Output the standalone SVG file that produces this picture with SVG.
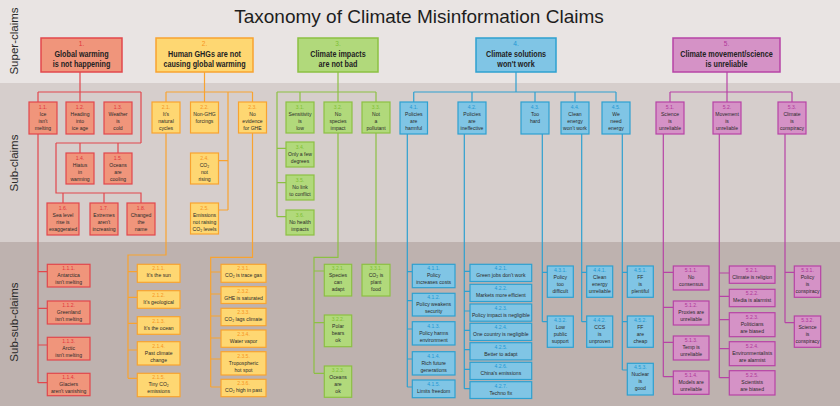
<svg xmlns="http://www.w3.org/2000/svg" width="840" height="406" viewBox="0 0 840 406">
<style>
text{font-family:"Liberation Sans",Arial,Helvetica,sans-serif}
.ttl{font-size:19px;text-anchor:middle;fill:#1d1d1d}
.side{font-size:11.5px;text-anchor:middle;fill:#2b2b2b}
.t{font-size:6.2px;text-anchor:middle;fill:#2a2a2a}
.st{font-size:8.3px;font-weight:bold;text-anchor:middle;fill:#222}
.st .n{font-weight:normal;font-size:7.5px}
.r rect{fill:#f0957b;stroke:#e2474c;stroke-width:1.2}
.r .n{fill:#e2343c}
.o rect{fill:#fed772;stroke:#f8a330;stroke-width:1.2}
.o .n{fill:#f7941d}
.g rect{fill:#b1d97b;stroke:#8cc043;stroke-width:1.2}
.g .n{fill:#7fbf33}
.b rect{fill:#80c5e5;stroke:#2ea0d0;stroke-width:1.2}
.b .n{fill:#1e98d4}
.m rect{fill:#d592c6;stroke:#b743a6;stroke-width:1.2}
.m .n{fill:#b0359a}
.sup rect{stroke-width:1.5}
#connectors path{fill:none;stroke-width:1.2}
.cr{stroke:#e2474c}.co{stroke:#f8a330}.cg{stroke:#8cc043}.cb{stroke:#2ea0d0}.cm{stroke:#b743a6}
</style>
<rect width="840" height="83" fill="#e9e4e3"/>
<rect y="83" width="840" height="159" fill="#d6cecc"/>
<rect y="242" width="840" height="164" fill="#beb2af"/>
<text class="ttl" x="419" y="23">Taxonomy of Climate Misinformation Claims</text>
<text class="side" transform="translate(17.5 41) rotate(-90)">Super-claims</text>
<text class="side" transform="translate(17.5 163) rotate(-90)">Sub-claims</text>
<text class="side" transform="translate(17.5 322) rotate(-90)">Sub-sub-claims</text>

<g id="connectors">
<path class="cr" d="M80 72V102M38 92H141M38 92V383M141 92V143M56 143H141M56 143V193H141V203M80 143V153M118 143V153M63 193V203M104 193V203M38 271.7H47M38 308.3H47M38 345H47M38 382.7H47"/>
<path class="co" d="M204.5 72V102M166 92H252.5M166 92V255H128V378.3M128 271.7H137M128 297.3H137M128 323.3H137M128 350H137M128 378.3H137M228 92V210M218 160.7H228M218 210H228M252.5 92V257.3H210.7V387M210.7 272H221M210.7 294H221M210.7 316H221M210.7 338H221M210.7 359H221M210.7 387H221"/>
<path class="cg" d="M338 72V102M277 92H376M277 92V216.7M277 148.3H286M277 182.7H286M277 216.7H286M300 92V102M338 133V257.3H314V373.3M314 271H324M314 322.7H324M314 373.3H324M376 92V264.3"/>
<path class="cb" d="M516 72V92M413.75 92H616M413.75 92V102M472 92V102M535 92V102M575 92V102M616 92V102M407.3 134V387M407.3 271.7H412.3M407.3 300.7H412.3M407.3 329H412.3M407.3 359H412.3M407.3 387H412.3M464.3 134V388.7M464.3 271.3H470M464.3 291.3H470M464.3 311H470M464.3 330.3H470M464.3 349.7H470M464.3 369.3H470M464.3 388.7H470M542.3 134V321.7M542.3 272.3H547.3M542.3 321.7H547.3M581.7 134V321.7M581.7 272.3H586.7M581.7 321.7H586.7M622.3 134V370M622.3 272.3H627.3M622.3 321.7H627.3M622.3 370H627.3"/>
<path class="cm" d="M727 72V102M670 92H792M670 92V102M792 92V102M663.3 134V376.7M663.3 272.3H673.3M663.3 307.3H673.3M663.3 342.3H673.3M663.3 376.7H673.3M719.3 134V377.7M719.3 273H729.3M719.3 296.3H729.3M719.3 319.7H729.3M719.3 348.7H729.3M719.3 377.7H729.3M785 134V322.7M785 272.3H794.3M785 322.7H794.3"/>
</g>

<g id="super-1" class="r sup" transform="translate(41 38)"><rect width="81" height="34"/><text class="st" transform="translate(40.5 0) scale(.87 1)"><tspan class="n" x="0" y="8">1.</tspan><tspan x="0" y="19.3">Global warming</tspan><tspan x="0" y="29">is not happening</tspan></text></g>
<g id="super-2" class="o sup" transform="translate(156 38)"><rect width="97" height="34"/><text class="st" transform="translate(48.5 0) scale(.87 1)"><tspan class="n" x="0" y="8">2.</tspan><tspan x="0" y="19.3">Human GHGs are not</tspan><tspan x="0" y="29">causing global warming</tspan></text></g>
<g id="super-3" class="g sup" transform="translate(298 38)"><rect width="80" height="34"/><text class="st" transform="translate(40 0) scale(.87 1)"><tspan class="n" x="0" y="8">3.</tspan><tspan x="0" y="19.3">Climate impacts</tspan><tspan x="0" y="29">are not bad</tspan></text></g>
<g id="super-4" class="b sup" transform="translate(476 38)"><rect width="80" height="34"/><text class="st" transform="translate(40 0) scale(.87 1)"><tspan class="n" x="0" y="8">4.</tspan><tspan x="0" y="19.3">Climate solutions</tspan><tspan x="0" y="29">won't work</tspan></text></g>
<g id="super-5" class="m sup" transform="translate(673 38)"><rect width="107" height="34"/><text class="st" transform="translate(53.5 0) scale(.87 1)"><tspan class="n" x="0" y="8">5.</tspan><tspan x="0" y="19.3">Climate movement/science</tspan><tspan x="0" y="29">is unreliable</tspan></text></g>

<g id="claim-1-1" class="r" transform="translate(29 102)"><rect width="28" height="32"/><text class="t" transform="translate(14 0) scale(.82 1)"><tspan class="n" x="0" y="7.5">1.1.</tspan><tspan x="0" dy="6.8">Ice</tspan><tspan x="0" dy="6.8">isn't</tspan><tspan x="0" dy="6.8">melting</tspan></text></g>
<g id="claim-1-2" class="r" transform="translate(66 102)"><rect width="28" height="32"/><text class="t" transform="translate(14 0) scale(.82 1)"><tspan class="n" x="0" y="7.5">1.2.</tspan><tspan x="0" dy="6.8">Heading</tspan><tspan x="0" dy="6.8">into</tspan><tspan x="0" dy="6.8">ice age</tspan></text></g>
<g id="claim-1-3" class="r" transform="translate(104 102)"><rect width="28" height="32"/><text class="t" transform="translate(14 0) scale(.82 1)"><tspan class="n" x="0" y="7.5">1.3.</tspan><tspan x="0" dy="6.8">Weather</tspan><tspan x="0" dy="6.8">is</tspan><tspan x="0" dy="6.8">cold</tspan></text></g>
<g id="claim-1-4" class="r" transform="translate(66 153)"><rect width="28" height="31"/><text class="t" transform="translate(14 0) scale(.82 1)"><tspan class="n" x="0" y="7.5">1.4.</tspan><tspan x="0" dy="6.8">Hiatus</tspan><tspan x="0" dy="6.8">in</tspan><tspan x="0" dy="6.8">warming</tspan></text></g>
<g id="claim-1-5" class="r" transform="translate(104 153)"><rect width="28" height="31"/><text class="t" transform="translate(14 0) scale(.82 1)"><tspan class="n" x="0" y="7.5">1.5.</tspan><tspan x="0" dy="6.8">Oceans</tspan><tspan x="0" dy="6.8">are</tspan><tspan x="0" dy="6.8">cooling</tspan></text></g>
<g id="claim-1-6" class="r" transform="translate(47 203)"><rect width="32" height="32"/><text class="t" transform="translate(16 0) scale(.82 1)"><tspan class="n" x="0" y="7.5">1.6.</tspan><tspan x="0" dy="6.8">Sea level</tspan><tspan x="0" dy="6.8">rise is</tspan><tspan x="0" dy="6.8">exaggerated</tspan></text></g>
<g id="claim-1-7" class="r" transform="translate(90 203)"><rect width="28" height="32"/><text class="t" transform="translate(14 0) scale(.82 1)"><tspan class="n" x="0" y="7.5">1.7.</tspan><tspan x="0" dy="6.8">Extremes</tspan><tspan x="0" dy="6.8">aren't</tspan><tspan x="0" dy="6.8">increasing</tspan></text></g>
<g id="claim-1-8" class="r" transform="translate(127 203)"><rect width="28" height="32"/><text class="t" transform="translate(14 0) scale(.82 1)"><tspan class="n" x="0" y="7.5">1.8.</tspan><tspan x="0" dy="6.8">Changed</tspan><tspan x="0" dy="6.8">the</tspan><tspan x="0" dy="6.8">name</tspan></text></g>

<g id="claim-2-1" class="o" transform="translate(152 102)"><rect width="28" height="31"/><text class="t" transform="translate(14 0) scale(.82 1)"><tspan class="n" x="0" y="7.5">2.1.</tspan><tspan x="0" dy="6.8">It's</tspan><tspan x="0" dy="6.8">natural</tspan><tspan x="0" dy="6.8">cycles</tspan></text></g>
<g id="claim-2-2" class="o" transform="translate(190.5 102)"><rect width="28" height="31"/><text class="t" transform="translate(14 0) scale(.82 1)"><tspan class="n" x="0" y="7.5">2.2.</tspan><tspan x="0" dy="6.8">Non-GHG</tspan><tspan x="0" dy="6.8">forcings</tspan></text></g>
<g id="claim-2-3" class="o" transform="translate(238.5 102)"><rect width="28" height="31"/><text class="t" transform="translate(14 0) scale(.82 1)"><tspan class="n" x="0" y="7.5">2.3.</tspan><tspan x="0" dy="6.8">No</tspan><tspan x="0" dy="6.8">evidence</tspan><tspan x="0" dy="6.8">for GHE</tspan></text></g>
<g id="claim-2-4" class="o" transform="translate(190.5 153)"><rect width="28" height="31"/><text class="t" transform="translate(14 0) scale(.82 1)"><tspan class="n" x="0" y="7.5">2.4.</tspan><tspan x="0" dy="6.8">CO₂</tspan><tspan x="0" dy="6.8">not</tspan><tspan x="0" dy="6.8">rising</tspan></text></g>
<g id="claim-2-5" class="o" transform="translate(190.5 203)"><rect width="28" height="31"/><text class="t" transform="translate(14 0) scale(.82 1)"><tspan class="n" x="0" y="7.5">2.5.</tspan><tspan x="0" dy="6.8">Emissions</tspan><tspan x="0" dy="6.8">not raising</tspan><tspan x="0" dy="6.8">CO₂ levels</tspan></text></g>

<g id="claim-3-1" class="g" transform="translate(286 102)"><rect width="28" height="31"/><text class="t" transform="translate(14 0) scale(.82 1)"><tspan class="n" x="0" y="7.5">3.1.</tspan><tspan x="0" dy="6.8">Sensitivity</tspan><tspan x="0" dy="6.8">is</tspan><tspan x="0" dy="6.8">low</tspan></text></g>
<g id="claim-3-2" class="g" transform="translate(324 102)"><rect width="28" height="31"/><text class="t" transform="translate(14 0) scale(.82 1)"><tspan class="n" x="0" y="7.5">3.2.</tspan><tspan x="0" dy="6.8">No</tspan><tspan x="0" dy="6.8">species</tspan><tspan x="0" dy="6.8">impact</tspan></text></g>
<g id="claim-3-3" class="g" transform="translate(362 102)"><rect width="28" height="31"/><text class="t" transform="translate(14 0) scale(.82 1)"><tspan class="n" x="0" y="7.5">3.3.</tspan><tspan x="0" dy="6.8">Not</tspan><tspan x="0" dy="6.8">a</tspan><tspan x="0" dy="6.8">pollutant</tspan></text></g>
<g id="claim-3-4" class="g" transform="translate(286 142)"><rect width="28" height="25"/><text class="t" transform="translate(14 0) scale(.82 1)"><tspan class="n" x="0" y="7">3.4.</tspan><tspan x="0" dy="6.8">Only a few</tspan><tspan x="0" dy="6.8">degrees</tspan></text></g>
<g id="claim-3-5" class="g" transform="translate(286 175)"><rect width="28" height="25"/><text class="t" transform="translate(14 0) scale(.82 1)"><tspan class="n" x="0" y="7">3.5.</tspan><tspan x="0" dy="6.8">No link</tspan><tspan x="0" dy="6.8">to conflict</tspan></text></g>
<g id="claim-3-6" class="g" transform="translate(286 210)"><rect width="28" height="25"/><text class="t" transform="translate(14 0) scale(.82 1)"><tspan class="n" x="0" y="7">3.6.</tspan><tspan x="0" dy="6.8">No health</tspan><tspan x="0" dy="6.8">impacts</tspan></text></g>

<g id="claim-4-1" class="b" transform="translate(400 102)"><rect width="27.5" height="32"/><text class="t" transform="translate(13.75 0) scale(.82 1)"><tspan class="n" x="0" y="7.5">4.1.</tspan><tspan x="0" dy="6.8">Policies</tspan><tspan x="0" dy="6.8">are</tspan><tspan x="0" dy="6.8">harmful</tspan></text></g>
<g id="claim-4-2" class="b" transform="translate(458 102)"><rect width="28" height="32"/><text class="t" transform="translate(14 0) scale(.82 1)"><tspan class="n" x="0" y="7.5">4.2.</tspan><tspan x="0" dy="6.8">Policies</tspan><tspan x="0" dy="6.8">are</tspan><tspan x="0" dy="6.8">ineffective</tspan></text></g>
<g id="claim-4-3" class="b" transform="translate(521 102)"><rect width="28" height="32"/><text class="t" transform="translate(14 0) scale(.82 1)"><tspan class="n" x="0" y="7.5">4.3.</tspan><tspan x="0" dy="6.8">Too</tspan><tspan x="0" dy="6.8">hard</tspan></text></g>
<g id="claim-4-4" class="b" transform="translate(561 102)"><rect width="28" height="32"/><text class="t" transform="translate(14 0) scale(.82 1)"><tspan class="n" x="0" y="7.5">4.4.</tspan><tspan x="0" dy="6.8">Clean</tspan><tspan x="0" dy="6.8">energy</tspan><tspan x="0" dy="6.8">won't work</tspan></text></g>
<g id="claim-4-5" class="b" transform="translate(602 102)"><rect width="28" height="32"/><text class="t" transform="translate(14 0) scale(.82 1)"><tspan class="n" x="0" y="7.5">4.5.</tspan><tspan x="0" dy="6.8">We</tspan><tspan x="0" dy="6.8">need</tspan><tspan x="0" dy="6.8">energy</tspan></text></g>

<g id="claim-5-1" class="m" transform="translate(656 102)"><rect width="28" height="32"/><text class="t" transform="translate(14 0) scale(.82 1)"><tspan class="n" x="0" y="7.5">5.1.</tspan><tspan x="0" dy="6.8">Science</tspan><tspan x="0" dy="6.8">is</tspan><tspan x="0" dy="6.8">unreliable</tspan></text></g>
<g id="claim-5-2" class="m" transform="translate(713 102)"><rect width="28" height="32"/><text class="t" transform="translate(14 0) scale(.82 1)"><tspan class="n" x="0" y="7.5">5.2.</tspan><tspan x="0" dy="6.8">Movement</tspan><tspan x="0" dy="6.8">is</tspan><tspan x="0" dy="6.8">unreliable</tspan></text></g>
<g id="claim-5-3" class="m" transform="translate(778 102)"><rect width="28" height="32"/><text class="t" transform="translate(14 0) scale(.82 1)"><tspan class="n" x="0" y="7.5">5.3.</tspan><tspan x="0" dy="6.8">Climate</tspan><tspan x="0" dy="6.8">is</tspan><tspan x="0" dy="6.8">conspiracy</tspan></text></g>

<g id="claim-1-1-1" class="r" transform="translate(47.3 264.3)"><rect width="42.7" height="22.7"/><text class="t" transform="translate(21.35 0) scale(.82 1)"><tspan class="n" x="0" y="6">1.1.1.</tspan><tspan x="0" dy="7.2">Antarctica</tspan><tspan x="0" dy="6.8">isn't melting</tspan></text></g>
<g id="claim-1-1-2" class="r" transform="translate(47.3 301)"><rect width="42.7" height="23"/><text class="t" transform="translate(21.35 0) scale(.82 1)"><tspan class="n" x="0" y="6">1.1.2.</tspan><tspan x="0" dy="7.2">Greenland</tspan><tspan x="0" dy="6.8">isn't melting</tspan></text></g>
<g id="claim-1-1-3" class="r" transform="translate(47.3 337.3)"><rect width="42.7" height="22.7"/><text class="t" transform="translate(21.35 0) scale(.82 1)"><tspan class="n" x="0" y="6">1.1.3.</tspan><tspan x="0" dy="7.2">Arctic</tspan><tspan x="0" dy="6.8">isn't melting</tspan></text></g>
<g id="claim-1-1-4" class="r" transform="translate(47.3 373.3)"><rect width="42.7" height="22.4"/><text class="t" transform="translate(21.35 0) scale(.82 1)"><tspan class="n" x="0" y="6">1.1.4.</tspan><tspan x="0" dy="7.2">Glaciers</tspan><tspan x="0" dy="6.8">aren't vanishing</tspan></text></g>

<g id="claim-2-1-1" class="o" transform="translate(137.3 264.3)"><rect width="42.7" height="18"/><text class="t" transform="translate(21.35 0) scale(.82 1)"><tspan class="n" x="0" y="6">2.1.1.</tspan><tspan x="0" dy="7.2">It's the sun</tspan></text></g>
<g id="claim-2-1-2" class="o" transform="translate(137.3 290.7)"><rect width="42.7" height="17.6"/><text class="t" transform="translate(21.35 0) scale(.82 1)"><tspan class="n" x="0" y="6">2.1.2.</tspan><tspan x="0" dy="7.2">It's geological</tspan></text></g>
<g id="claim-2-1-3" class="o" transform="translate(137.3 316.7)"><rect width="42.7" height="17.6"/><text class="t" transform="translate(21.35 0) scale(.82 1)"><tspan class="n" x="0" y="6">2.1.3.</tspan><tspan x="0" dy="7.2">It's the ocean</tspan></text></g>
<g id="claim-2-1-4" class="o" transform="translate(137.3 341.7)"><rect width="42.7" height="23.3"/><text class="t" transform="translate(21.35 0) scale(.82 1)"><tspan class="n" x="0" y="6">2.1.4.</tspan><tspan x="0" dy="7.2">Past climate</tspan><tspan x="0" dy="6.8">change</tspan></text></g>
<g id="claim-2-1-5" class="o" transform="translate(137.3 373.3)"><rect width="42.7" height="23.4"/><text class="t" transform="translate(21.35 0) scale(.82 1)"><tspan class="n" x="0" y="6">2.1.5.</tspan><tspan x="0" dy="7.2">Tiny CO₂</tspan><tspan x="0" dy="6.8">emissions</tspan></text></g>

<g id="claim-2-3-1" class="o" transform="translate(221 264.3)"><rect width="45" height="18"/><text class="t" transform="translate(22.5 0) scale(.82 1)"><tspan class="n" x="0" y="6">2.3.1.</tspan><tspan x="0" dy="7.2">CO₂ is trace gas</tspan></text></g>
<g id="claim-2-3-2" class="o" transform="translate(221 286.7)"><rect width="45" height="16.8"/><text class="t" transform="translate(22.5 0) scale(.82 1)"><tspan class="n" x="0" y="6">2.3.2.</tspan><tspan x="0" dy="7.2">GHE is saturated</tspan></text></g>
<g id="claim-2-3-3" class="o" transform="translate(221 308.3)"><rect width="45" height="17.4"/><text class="t" transform="translate(22.5 0) scale(.82 1)"><tspan class="n" x="0" y="6">2.3.3.</tspan><tspan x="0" dy="7.2">CO₂ lags climate</tspan></text></g>
<g id="claim-2-3-4" class="o" transform="translate(221 330)"><rect width="45" height="17.3"/><text class="t" transform="translate(22.5 0) scale(.82 1)"><tspan class="n" x="0" y="6">2.3.4.</tspan><tspan x="0" dy="7.2">Water vapor</tspan></text></g>
<g id="claim-2-3-5" class="o" transform="translate(221 351.7)"><rect width="45" height="23.3"/><text class="t" transform="translate(22.5 0) scale(.82 1)"><tspan class="n" x="0" y="6">2.3.5.</tspan><tspan x="0" dy="7.2">Tropospheric</tspan><tspan x="0" dy="6.8">hot spot</tspan></text></g>
<g id="claim-2-3-6" class="o" transform="translate(221 379.3)"><rect width="45" height="17.4"/><text class="t" transform="translate(22.5 0) scale(.82 1)"><tspan class="n" x="0" y="6">2.3.6.</tspan><tspan x="0" dy="7.2">CO₂ high in past</tspan></text></g>

<g id="claim-3-2-1" class="g" transform="translate(324.3 264.3)"><rect width="27.4" height="31.7"/><text class="t" transform="translate(13.7 0) scale(.82 1)"><tspan class="n" x="0" y="6">3.2.1.</tspan><tspan x="0" dy="7.2">Species</tspan><tspan x="0" dy="6.8">can</tspan><tspan x="0" dy="6.8">adapt</tspan></text></g>
<g id="claim-3-2-2" class="g" transform="translate(324.3 315)"><rect width="27.4" height="31.7"/><text class="t" transform="translate(13.7 0) scale(.82 1)"><tspan class="n" x="0" y="6">3.2.2.</tspan><tspan x="0" dy="7.2">Polar</tspan><tspan x="0" dy="6.8">bears</tspan><tspan x="0" dy="6.8">ok</tspan></text></g>
<g id="claim-3-2-3" class="g" transform="translate(324.3 366)"><rect width="27.4" height="31.3"/><text class="t" transform="translate(13.7 0) scale(.82 1)"><tspan class="n" x="0" y="6">3.2.3.</tspan><tspan x="0" dy="7.2">Oceans</tspan><tspan x="0" dy="6.8">are</tspan><tspan x="0" dy="6.8">ok</tspan></text></g>
<g id="claim-3-3-1" class="g" transform="translate(362 264.3)"><rect width="28" height="31.7"/><text class="t" transform="translate(14 0) scale(.82 1)"><tspan class="n" x="0" y="6">3.3.1.</tspan><tspan x="0" dy="7.2">CO₂ is</tspan><tspan x="0" dy="6.8">plant</tspan><tspan x="0" dy="6.8">food</tspan></text></g>

<g id="claim-4-1-1" class="b" transform="translate(412.3 264.3)"><rect width="42.7" height="23.4"/><text class="t" transform="translate(21.35 0) scale(.82 1)"><tspan class="n" x="0" y="6">4.1.1.</tspan><tspan x="0" dy="7.2">Policy</tspan><tspan x="0" dy="6.8">increases costs</tspan></text></g>
<g id="claim-4-1-2" class="b" transform="translate(412.3 293.3)"><rect width="42.7" height="22.7"/><text class="t" transform="translate(21.35 0) scale(.82 1)"><tspan class="n" x="0" y="6">4.1.2.</tspan><tspan x="0" dy="7.2">Policy weakens</tspan><tspan x="0" dy="6.8">security</tspan></text></g>
<g id="claim-4-1-3" class="b" transform="translate(412.3 321.7)"><rect width="42.7" height="23.3"/><text class="t" transform="translate(21.35 0) scale(.82 1)"><tspan class="n" x="0" y="6">4.1.3.</tspan><tspan x="0" dy="7.2">Policy harms</tspan><tspan x="0" dy="6.8">environment</tspan></text></g>
<g id="claim-4-1-4" class="b" transform="translate(412.3 351.7)"><rect width="42.7" height="23.3"/><text class="t" transform="translate(21.35 0) scale(.82 1)"><tspan class="n" x="0" y="6">4.1.4.</tspan><tspan x="0" dy="7.2">Rich future</tspan><tspan x="0" dy="6.8">generations</tspan></text></g>
<g id="claim-4-1-5" class="b" transform="translate(412.3 380)"><rect width="42.7" height="17.7"/><text class="t" transform="translate(21.35 0) scale(.82 1)"><tspan class="n" x="0" y="6">4.1.5.</tspan><tspan x="0" dy="7.2">Limits freedom</tspan></text></g>

<g id="claim-4-2-1" class="b" transform="translate(470 264.3)"><rect width="61.7" height="17.2"/><text class="t" transform="translate(30.85 0) scale(.82 1)"><tspan class="n" x="0" y="6">4.2.1.</tspan><tspan x="0" dy="7.2">Green jobs don't work</tspan></text></g>
<g id="claim-4-2-2" class="b" transform="translate(470 284.3)"><rect width="61.7" height="17.2"/><text class="t" transform="translate(30.85 0) scale(.82 1)"><tspan class="n" x="0" y="6">4.2.2.</tspan><tspan x="0" dy="7.2">Markets more efficient</tspan></text></g>
<g id="claim-4-2-3" class="b" transform="translate(470 304)"><rect width="61.7" height="17.2"/><text class="t" transform="translate(30.85 0) scale(.82 1)"><tspan class="n" x="0" y="6">4.2.3.</tspan><tspan x="0" dy="7.2">Policy impact is negligible</tspan></text></g>
<g id="claim-4-2-4" class="b" transform="translate(470 323.3)"><rect width="61.7" height="17.2"/><text class="t" transform="translate(30.85 0) scale(.82 1)"><tspan class="n" x="0" y="6">4.2.4.</tspan><tspan x="0" dy="7.2">One country is negligible</tspan></text></g>
<g id="claim-4-2-5" class="b" transform="translate(470 342.7)"><rect width="61.7" height="17.2"/><text class="t" transform="translate(30.85 0) scale(.82 1)"><tspan class="n" x="0" y="6">4.2.5.</tspan><tspan x="0" dy="7.2">Better to adapt</tspan></text></g>
<g id="claim-4-2-6" class="b" transform="translate(470 362.3)"><rect width="61.7" height="17.2"/><text class="t" transform="translate(30.85 0) scale(.82 1)"><tspan class="n" x="0" y="6">4.2.6.</tspan><tspan x="0" dy="7.2">China's emissions</tspan></text></g>
<g id="claim-4-2-7" class="b" transform="translate(470 381.7)"><rect width="61.7" height="16.8"/><text class="t" transform="translate(30.85 0) scale(.82 1)"><tspan class="n" x="0" y="6">4.2.7.</tspan><tspan x="0" dy="7.2">Techno fix</tspan></text></g>

<g id="claim-4-3-1" class="b" transform="translate(547.3 266)"><rect width="26" height="31.3"/><text class="t" transform="translate(13 0) scale(.82 1)"><tspan class="n" x="0" y="6">4.3.1.</tspan><tspan x="0" dy="7.2">Policy</tspan><tspan x="0" dy="6.8">too</tspan><tspan x="0" dy="6.8">difficult</tspan></text></g>
<g id="claim-4-3-2" class="b" transform="translate(547.3 316)"><rect width="26" height="31.3"/><text class="t" transform="translate(13 0) scale(.82 1)"><tspan class="n" x="0" y="6">4.3.2.</tspan><tspan x="0" dy="7.2">Low</tspan><tspan x="0" dy="6.8">public</tspan><tspan x="0" dy="6.8">support</tspan></text></g>
<g id="claim-4-4-1" class="b" transform="translate(586.7 266)"><rect width="26" height="31.3"/><text class="t" transform="translate(13 0) scale(.82 1)"><tspan class="n" x="0" y="6">4.4.1.</tspan><tspan x="0" dy="7.2">Clean</tspan><tspan x="0" dy="6.8">energy</tspan><tspan x="0" dy="6.8">unreliable</tspan></text></g>
<g id="claim-4-4-2" class="b" transform="translate(586.7 316)"><rect width="26" height="31.3"/><text class="t" transform="translate(13 0) scale(.82 1)"><tspan class="n" x="0" y="6">4.4.2.</tspan><tspan x="0" dy="7.2">CCS</tspan><tspan x="0" dy="6.8">is</tspan><tspan x="0" dy="6.8">unproven</tspan></text></g>
<g id="claim-4-5-1" class="b" transform="translate(627.3 266)"><rect width="26" height="31.3"/><text class="t" transform="translate(13 0) scale(.82 1)"><tspan class="n" x="0" y="6">4.5.1.</tspan><tspan x="0" dy="7.2">FF</tspan><tspan x="0" dy="6.8">is</tspan><tspan x="0" dy="6.8">plentiful</tspan></text></g>
<g id="claim-4-5-2" class="b" transform="translate(627.3 316)"><rect width="26" height="31.3"/><text class="t" transform="translate(13 0) scale(.82 1)"><tspan class="n" x="0" y="6">4.5.2.</tspan><tspan x="0" dy="7.2">FF</tspan><tspan x="0" dy="6.8">are</tspan><tspan x="0" dy="6.8">cheap</tspan></text></g>
<g id="claim-4-5-3" class="b" transform="translate(627.3 363.3)"><rect width="26" height="31.7"/><text class="t" transform="translate(13 0) scale(.82 1)"><tspan class="n" x="0" y="6">4.5.3.</tspan><tspan x="0" dy="7.2">Nuclear</tspan><tspan x="0" dy="6.8">is</tspan><tspan x="0" dy="6.8">good</tspan></text></g>

<g id="claim-5-1-1" class="m" transform="translate(673.3 266)"><rect width="35.7" height="24"/><text class="t" transform="translate(17.85 0) scale(.82 1)"><tspan class="n" x="0" y="6">5.1.1.</tspan><tspan x="0" dy="7.2">No</tspan><tspan x="0" dy="6.8">consensus</tspan></text></g>
<g id="claim-5-1-2" class="m" transform="translate(673.3 301)"><rect width="35.7" height="24"/><text class="t" transform="translate(17.85 0) scale(.82 1)"><tspan class="n" x="0" y="6">5.1.2.</tspan><tspan x="0" dy="7.2">Proxies are</tspan><tspan x="0" dy="6.8">unreliable</tspan></text></g>
<g id="claim-5-1-3" class="m" transform="translate(673.3 336)"><rect width="35.7" height="24"/><text class="t" transform="translate(17.85 0) scale(.82 1)"><tspan class="n" x="0" y="6">5.1.3.</tspan><tspan x="0" dy="7.2">Temp is</tspan><tspan x="0" dy="6.8">unreliable</tspan></text></g>
<g id="claim-5-1-4" class="m" transform="translate(673.3 371)"><rect width="35.7" height="23.3"/><text class="t" transform="translate(17.85 0) scale(.82 1)"><tspan class="n" x="0" y="6">5.1.4.</tspan><tspan x="0" dy="7.2">Models are</tspan><tspan x="0" dy="6.8">unreliable</tspan></text></g>
<g id="claim-5-2-1" class="m" transform="translate(729.3 266)"><rect width="45.7" height="17.3"/><text class="t" transform="translate(22.85 0) scale(.82 1)"><tspan class="n" x="0" y="6">5.2.1.</tspan><tspan x="0" dy="7.2">Climate is religion</tspan></text></g>
<g id="claim-5-2-2" class="m" transform="translate(729.3 289.3)"><rect width="45.7" height="17.4"/><text class="t" transform="translate(22.85 0) scale(.82 1)"><tspan class="n" x="0" y="6">5.2.2.</tspan><tspan x="0" dy="7.2">Media is alarmist</tspan></text></g>
<g id="claim-5-2-3" class="m" transform="translate(729.3 312.7)"><rect width="45.7" height="24"/><text class="t" transform="translate(22.85 0) scale(.82 1)"><tspan class="n" x="0" y="6">5.2.3.</tspan><tspan x="0" dy="7.2">Politicians</tspan><tspan x="0" dy="6.8">are biased</tspan></text></g>
<g id="claim-5-2-4" class="m" transform="translate(729.3 341.7)"><rect width="45.7" height="24"/><text class="t" transform="translate(22.85 0) scale(.82 1)"><tspan class="n" x="0" y="6">5.2.4.</tspan><tspan x="0" dy="7.2">Environmentalists</tspan><tspan x="0" dy="6.8">are alarmist</tspan></text></g>
<g id="claim-5-2-5" class="m" transform="translate(729.3 370.7)"><rect width="45.7" height="24.3"/><text class="t" transform="translate(22.85 0) scale(.82 1)"><tspan class="n" x="0" y="6">5.2.5.</tspan><tspan x="0" dy="7.2">Scientists</tspan><tspan x="0" dy="6.8">are biased</tspan></text></g>
<g id="claim-5-3-1" class="m" transform="translate(794.3 266)"><rect width="26.4" height="31.3"/><text class="t" transform="translate(13.2 0) scale(.82 1)"><tspan class="n" x="0" y="6">5.3.1.</tspan><tspan x="0" dy="7.2">Policy</tspan><tspan x="0" dy="6.8">is</tspan><tspan x="0" dy="6.8">conspiracy</tspan></text></g>
<g id="claim-5-3-2" class="m" transform="translate(794.3 316)"><rect width="26.4" height="31.3"/><text class="t" transform="translate(13.2 0) scale(.82 1)"><tspan class="n" x="0" y="6">5.3.2.</tspan><tspan x="0" dy="7.2">Science</tspan><tspan x="0" dy="6.8">is</tspan><tspan x="0" dy="6.8">conspiracy</tspan></text></g>
</svg>
